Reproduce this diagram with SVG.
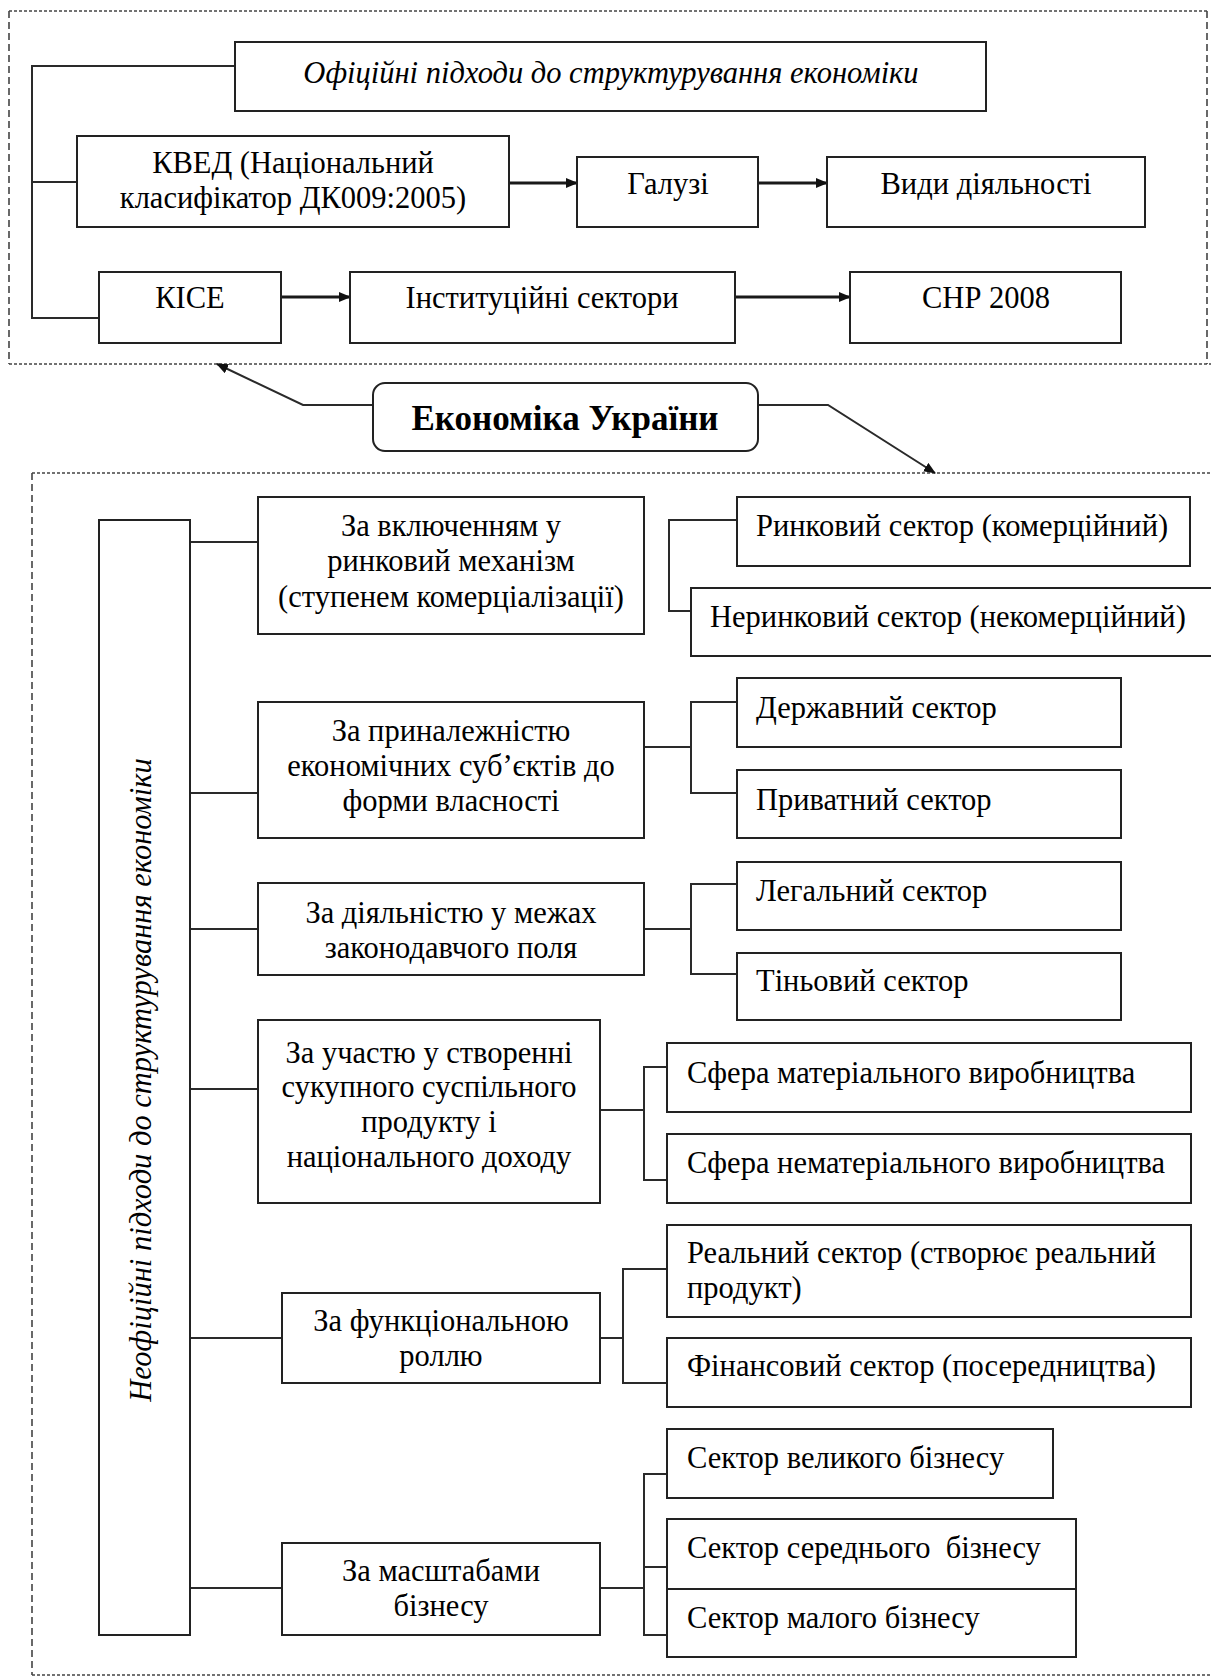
<svg xmlns="http://www.w3.org/2000/svg" width="1211" height="1677" viewBox="0 0 1211 1677">
<style>
.bx{fill:#fff;stroke:#222;stroke-width:2}
.ln{fill:none;stroke:#2a2a2a;stroke-width:2}
.ar{fill:none;stroke:#1a1a1a;stroke-width:3}
.fr{fill:none;stroke:#444;stroke-width:1.6;stroke-dasharray:3 2}
.frv{fill:none;stroke:#444;stroke-width:1.6;stroke-dasharray:7 4}
text{font-family:"Liberation Serif","Times New Roman",serif;font-size:30.5px;fill:#000}
.c{text-anchor:middle}
.it{font-style:italic}
.b{font-weight:bold;font-size:35px}
</style>
<defs>
<marker id="ah" viewBox="0 0 12 10" refX="11" refY="5" markerWidth="12" markerHeight="10" markerUnits="userSpaceOnUse" orient="auto">
<path d="M0,0 L12,5 L0,10 Z" fill="#111"/>
</marker>
</defs>
<rect width="1211" height="1677" fill="#fff"/>

<g id="frames">
<line class="fr" x1="9" y1="11" x2="1207" y2="11"/>
<line class="fr" x1="9" y1="364" x2="1211" y2="364"/>
<line class="frv" x1="9" y1="11" x2="9" y2="364"/>
<line class="frv" x1="1207" y1="11" x2="1207" y2="364"/>
<line class="fr" x1="32" y1="473" x2="1211" y2="473"/>
<line class="frv" x1="32" y1="473" x2="32" y2="1675"/>
<line class="fr" x1="32" y1="1675" x2="1211" y2="1675"/>
</g>

<g id="connectors">
<polyline class="ln" points="235,66 32,66 32,318 99,318"/>
<line class="ln" x1="32" y1="182" x2="77" y2="182"/>
<line class="ar" x1="509" y1="183" x2="577" y2="183" marker-end="url(#ah)"/>
<line class="ar" x1="758" y1="183" x2="827" y2="183" marker-end="url(#ah)"/>
<line class="ar" x1="281" y1="297" x2="350" y2="297" marker-end="url(#ah)"/>
<line class="ar" x1="735" y1="297" x2="850" y2="297" marker-end="url(#ah)"/>
<polyline class="ln" points="373,405 303,405 217,364" marker-end="url(#ah)"/>
<polyline class="ln" points="758,405 828,405 935,473" marker-end="url(#ah)"/>
<line class="ln" x1="190" y1="542" x2="258" y2="542"/>
<line class="ln" x1="190" y1="793" x2="258" y2="793"/>
<line class="ln" x1="190" y1="929" x2="258" y2="929"/>
<line class="ln" x1="190" y1="1089" x2="258" y2="1089"/>
<line class="ln" x1="190" y1="1338" x2="282" y2="1338"/>
<line class="ln" x1="190" y1="1588" x2="282" y2="1588"/>
<polyline class="ln" points="737,520 669,520 669,611 691,611"/>
<line class="ln" x1="645" y1="747" x2="691" y2="747"/>
<polyline class="ln" points="737,702 691,702 691,793 737,793"/>
<line class="ln" x1="645" y1="929" x2="691" y2="929"/>
<polyline class="ln" points="737,884 691,884 691,974 737,974"/>
<line class="ln" x1="600" y1="1110" x2="644" y2="1110"/>
<polyline class="ln" points="667,1067 644,1067 644,1180 667,1180"/>
<line class="ln" x1="600" y1="1338" x2="623" y2="1338"/>
<polyline class="ln" points="667,1269 623,1269 623,1383 667,1383"/>
<line class="ln" x1="600" y1="1588" x2="644" y2="1588"/>
<polyline class="ln" points="667,1474 644,1474 644,1635 667,1635"/>
<line class="ln" x1="644" y1="1567" x2="667" y2="1567"/>
</g>

<g id="official"><rect class="bx" x="235" y="42" width="751" height="69"/><text class="c it" x="611" y="83">Офіційні підходи до структурування економіки</text></g>
<g id="kved"><rect class="bx" x="77" y="136" width="432" height="91"/><text class="c" x="293" y="173">КВЕД (Національний</text><text class="c" x="293" y="208">класифікатор ДК009:2005)</text></g>
<g id="galuzi"><rect class="bx" x="577" y="157" width="181" height="70"/><text class="c" x="668" y="194">Галузі</text></g>
<g id="vydy"><rect class="bx" x="827" y="157" width="318" height="70"/><text class="c" x="986" y="194">Види діяльності</text></g>
<g id="kise"><rect class="bx" x="99" y="272" width="182" height="71"/><text class="c" x="190" y="308">КІСЕ</text></g>
<g id="inst"><rect class="bx" x="350" y="272" width="385" height="71"/><text class="c" x="542" y="308">Інституційні сектори</text></g>
<g id="snr"><rect class="bx" x="850" y="272" width="271" height="71"/><text class="c" x="986" y="308">СНР 2008</text></g>

<g id="economy"><rect class="bx" x="373" y="383" width="385" height="68" rx="12"/><text class="c b" x="565" y="430">Економіка України</text></g>

<g id="unofficial"><rect class="bx" x="99" y="520" width="91" height="1115"/><text class="c it" x="151" y="1080" transform="rotate(-90 151 1080)">Неофіційні підходи до структурування економіки</text></g>

<g id="cat1"><rect class="bx" x="258" y="497" width="386" height="137"/><text class="c" x="451" y="536">За включенням у</text><text class="c" x="451" y="571">ринковий механізм</text><text class="c" x="451" y="607">(ступенем комерціалізації)</text></g>
<g id="market"><rect class="bx" x="737" y="497" width="453" height="69"/><text x="756" y="536">Ринковий сектор (комерційний)</text></g>
<g id="nonmarket"><rect class="bx" x="691" y="588" width="530" height="68"/><text x="710" y="627">Неринковий сектор (некомерційний)</text></g>

<g id="cat2"><rect class="bx" x="258" y="702" width="386" height="136"/><text class="c" x="451" y="741">За приналежністю</text><text class="c" x="451" y="776">економічних суб’єктів до</text><text class="c" x="451" y="811">форми власності</text></g>
<g id="state"><rect class="bx" x="737" y="678" width="384" height="69"/><text x="756" y="718">Державний сектор</text></g>
<g id="private"><rect class="bx" x="737" y="770" width="384" height="68"/><text x="756" y="810">Приватний сектор</text></g>

<g id="cat3"><rect class="bx" x="258" y="883" width="386" height="92"/><text class="c" x="451" y="923">За діяльністю у межах</text><text class="c" x="451" y="958">законодавчого поля</text></g>
<g id="legal"><rect class="bx" x="737" y="862" width="384" height="68"/><text x="756" y="901">Легальний сектор</text></g>
<g id="shadow"><rect class="bx" x="737" y="953" width="384" height="67"/><text x="756" y="991">Тіньовий сектор</text></g>

<g id="cat4"><rect class="bx" x="258" y="1020" width="342" height="183"/><text class="c" x="429" y="1063">За участю у створенні</text><text class="c" x="429" y="1097">сукупного суспільного</text><text class="c" x="429" y="1132">продукту і</text><text class="c" x="429" y="1167">національного доходу</text></g>
<g id="material"><rect class="bx" x="667" y="1043" width="524" height="69"/><text x="687" y="1083">Сфера матеріального виробництва</text></g>
<g id="nonmaterial"><rect class="bx" x="667" y="1134" width="524" height="69"/><text x="687" y="1173">Сфера нематеріального виробництва</text></g>

<g id="cat5"><rect class="bx" x="282" y="1293" width="318" height="90"/><text class="c" x="441" y="1331">За функціональною</text><text class="c" x="441" y="1366">роллю</text></g>
<g id="real"><rect class="bx" x="667" y="1225" width="524" height="92"/><text x="687" y="1263">Реальний сектор (створює реальний</text><text x="687" y="1298">продукт)</text></g>
<g id="finance"><rect class="bx" x="667" y="1338" width="524" height="69"/><text x="687" y="1376">Фінансовий сектор (посередництва)</text></g>

<g id="cat6"><rect class="bx" x="282" y="1543" width="318" height="92"/><text class="c" x="441" y="1581">За масштабами</text><text class="c" x="441" y="1616">бізнесу</text></g>
<g id="large"><rect class="bx" x="667" y="1429" width="386" height="69"/><text x="687" y="1468">Сектор великого бізнесу</text></g>
<g id="medium"><rect class="bx" x="667" y="1519" width="409" height="70"/><text x="687" y="1558" xml:space="preserve">Сектор середнього  бізнесу</text></g>
<g id="small"><rect class="bx" x="667" y="1589" width="409" height="68"/><text x="687" y="1628">Сектор малого бізнесу</text></g>
</svg>
